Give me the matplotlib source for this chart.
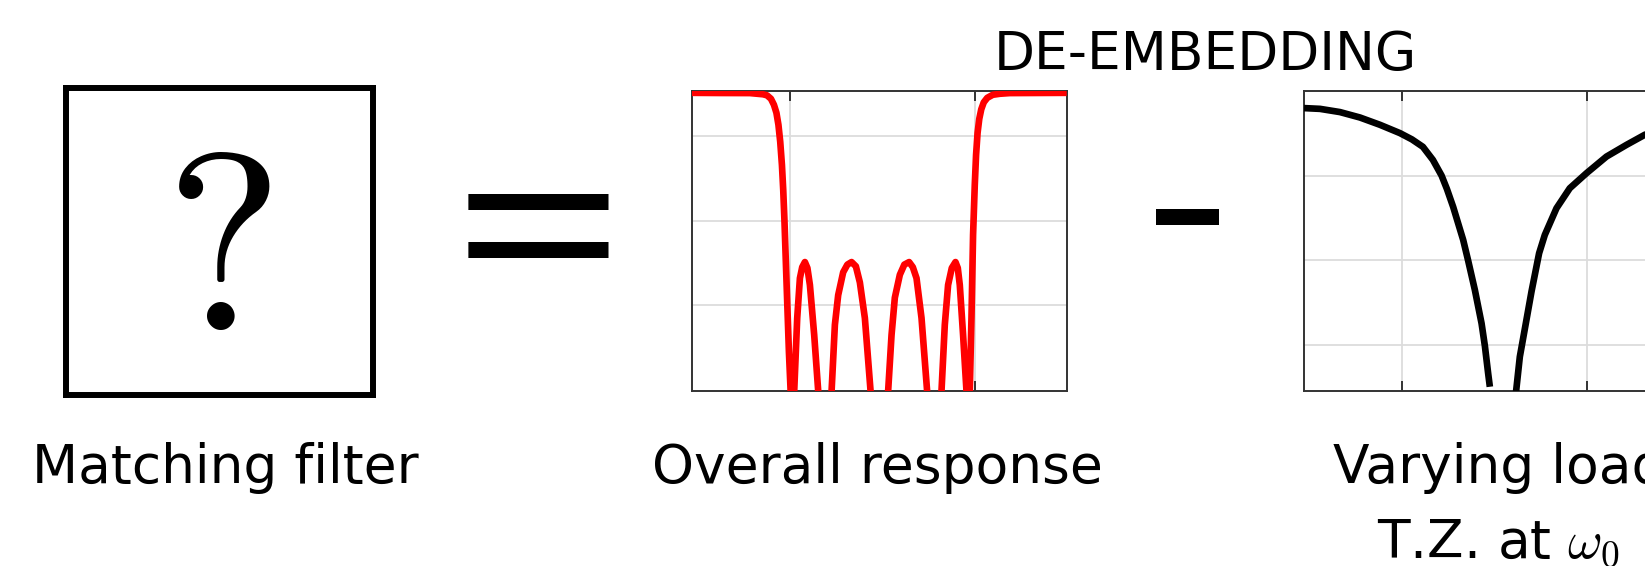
import numpy as np
import matplotlib
matplotlib.use("Agg")
import matplotlib.pyplot as plt

plt.rcParams['font.family'] = ['DejaVu Sans']
plt.rcParams['mathtext.fontset'] = 'cm'

# ---------------- data ----------------
# Overall response (red): frequency index vs dB
overall_freq = [0, 28, 58, 71, 75, 79, 82, 84.5, 86.5, 88.3, 90, 91.3, 92.5, 94.7, 97, 98.7, 100.5,
                102.3, 105.3, 108, 110.3, 113, 115.5, 118, 122.3, 126.3, 133,
                139.7, 143, 146.3, 151.3, 155.5, 159.7, 164, 168, 173, 178.7, 187.5,
                196.3, 199.7, 203, 208, 212.5, 217.3, 221, 224.7, 229.7, 235.3, 242.5,
                249.7, 253, 256.3, 260, 263.7, 266, 268, 271.3, 274.7, 276.4,
                278, 279.7, 281.3, 283, 284.3, 285.8, 287.5, 289.5, 292, 295.5, 301, 308, 318, 375]
overall_db = [-0.24, -0.26, -0.27, -0.41, -0.53, -0.94, -1.65, -2.6, -4.01, -6.02, -8.74, -11.69,
              -15.23, -22.9, -30.8, -35.4, -50,
              -35.4, -26.8, -22.1, -20.8, -20.2, -20.9, -22.9, -28.8, -35.4, -50,
              -35.4, -27.6, -24.1, -21.4, -20.5, -20.2, -20.7, -22.6, -26.8, -35.4, -50,
              -35.4, -28.8, -24.4, -21.7, -20.5, -20.2, -20.8, -22.1, -26.8, -35.4, -50,
              -35.4, -27.6, -22.9, -20.9, -20.2, -20.9, -22.9, -28.8, -35.4, -50,
              -35.4, -26.8, -17.0, -11.1, -7.56, -4.96, -3.31, -2.18, -1.36, -0.83, -0.47,
              -0.35, -0.27, -0.24]

# Varying load with a transmission zero (black): frequency index vs dB
load_freq = [0, 16, 36, 56, 76, 96, 108, 119, 129, 137.7, 143, 149.3, 159.3, 164.3,
             171, 177.7, 181, 184.3, 186, 199,
             211.3, 216, 222, 227.7, 235.3, 241, 252.7, 266, 282.7, 302.7, 322.7, 341, 375]
load_db = [-2.04, -2.13, -2.51, -3.15, -4.01, -4.99, -5.73, -6.61, -8.15, -10.0, -11.57,
           -13.7, -17.59, -20.04, -23.49, -27.43, -30.07, -33.33, -34.91, np.nan,
           -36.5, -31.37, -27.43, -23.67, -19.16, -17.0, -13.85, -11.49, -9.72, -7.76,
           -6.38, -5.19, -3.66]

x_limits = (0, 375)
y_limits = (-35.35, 0)
x_ticks = [98, 283]
overall_yticks = [-25.3, -15.3, -5.3]
load_yticks = [-30, -20, -10]

title_text = "DE-EMBEDDING"
box_label = "Matching filter"
overall_label = "Overall response"
load_label_1 = "Varying load"
load_label_2 = r"T.Z. at $\omega_0$"

# ---------------- figure ----------------
W, H = 1645, 566
fig = plt.figure(figsize=(W / 100, H / 100), dpi=100)
fig.patch.set_facecolor('white')


def fx(px):
    return px / W


def fy(py):
    return 1 - py / H


# matching-filter box with question mark
ax_box = fig.add_axes([fx(66), fy(395), (373 - 66) / W, (395 - 88) / H])
ax_box.set_xticks([])
ax_box.set_yticks([])
for s in ax_box.spines.values():
    s.set_linewidth(4.3)
    s.set_color('black')
fig.text(fx(224), fy(330), "?", family='cmr10', fontsize=181,
         ha='center', va='baseline')

SPINE = '#333333'


def style(ax, yticks):
    ax.set_xlim(x_limits)
    ax.set_ylim(y_limits)
    ax.set_xticks(x_ticks)
    ax.set_yticks(yticks)
    ax.tick_params(axis='x', direction='in', length=7.2, width=1.4, color=SPINE,
                   top=True, bottom=True, labelbottom=False, labeltop=False)
    ax.tick_params(axis='y', length=0, labelleft=False)
    ax.grid(True, color='#dcdcdc', linewidth=1.3)
    ax.set_axisbelow(True)
    for s in ax.spines.values():
        s.set_linewidth(1.4)
        s.set_color(SPINE)


ax_r = fig.add_axes([fx(692), fy(390.5), 374.7 / W, 299.7 / H])
style(ax_r, overall_yticks)
ax_r.plot(overall_freq, overall_db, color='red', lw=4.8, zorder=3,
          solid_joinstyle='round', solid_capstyle='butt')

ax_k = fig.add_axes([fx(1304), fy(390.5), 374.7 / W, 299.7 / H])
style(ax_k, load_yticks)
ax_k.plot(load_freq, load_db, color='black', lw=4.8, zorder=3,
          solid_joinstyle='round', solid_capstyle='butt')

# operators
fig.text(fx(456.5), fy(286.9), "=", family='STIXGeneral', fontsize=171.4,
         ha='left', va='baseline')
fig.text(fx(1146), fy(275), "-", family='STIXGeneral', fontsize=184.3,
         ha='left', va='baseline')

# labels
fig.text(fx(1205), fy(70), title_text, fontsize=38.4, ha='center', va='baseline')
fig.text(fx(225.5), fy(483.3), box_label, fontsize=38.4, ha='center', va='baseline')
fig.text(fx(877.5), fy(483.3), overall_label, fontsize=38.4, ha='center', va='baseline')
fig.text(fx(1499), fy(483.3), load_label_1, fontsize=38.4, ha='center', va='baseline')
fig.text(fx(1499), fy(556.7), load_label_2, fontsize=38.4, ha='center', va='baseline')

fig.savefig("out.png", dpi=100, facecolor='white')
